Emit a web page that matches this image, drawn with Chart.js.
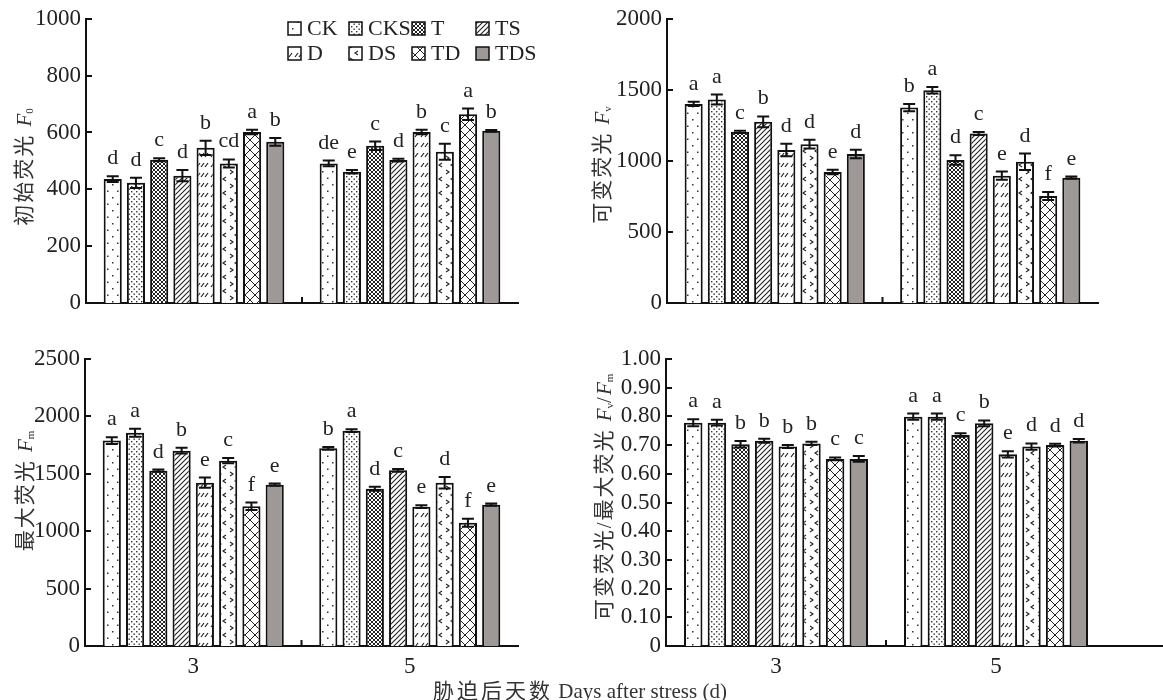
<!DOCTYPE html>
<html>
<head>
<meta charset="utf-8">
<script src="https://cdn.jsdelivr.net/npm/chart.js@4.4.1/dist/chart.umd.min.js"></script>
<style>
  html, body { margin:0; padding:0; background:#fff; }
  #wrap { position:relative; width:1163px; height:700px; overflow:hidden; background:#fff; }
  canvas { position:absolute; }
  .yt { position:absolute; transform: translate(-50%,-50%) rotate(-90deg); white-space:nowrap;
        font-family:"Liberation Serif","Noto Sans CJK SC",serif; font-size:21px; color:#333; letter-spacing:2px; }
  .yt i, .xt i { font-style:italic; letter-spacing:0; }
  .yt sub { font-size:11px; vertical-align:-2px; letter-spacing:0; }
  .xt { position:absolute; transform: translate(-50%,-50%); white-space:nowrap;
        font-family:"Liberation Serif","Noto Sans CJK SC",serif; font-size:21px; color:#333; }
  .xt .cn { letter-spacing:3px; }
</style>
</head>
<body>
<div id="wrap">
  <canvas id="c1" width="580" height="330" style="left:0px;top:0px;width:580px;height:330px"></canvas>
  <canvas id="c2" width="583" height="330" style="left:580px;top:0px;width:583px;height:330px"></canvas>
  <canvas id="c3" width="580" height="345" style="left:0px;top:330px;width:580px;height:345px"></canvas>
  <canvas id="c4" width="583" height="345" style="left:580px;top:330px;width:583px;height:345px"></canvas>
  <div class="yt" style="left:22px;top:167px">初始荧光 <i>F</i><sub>0</sub></div>
  <div class="yt" style="left:600px;top:165px">可变荧光 <i>F</i><sub>v</sub></div>
  <div class="yt" style="left:23px;top:491px">最大荧光 <i>F</i><sub>m</sub></div>
  <div class="yt" style="left:602px;top:497px">可变荧光/最大荧光 <i>F</i><sub>v</sub>/<i>F</i><sub>m</sub></div>
  <div class="xt" style="left:580px;top:689px"><span class="cn">胁迫后天数</span> Days after stress (d)</div>
</div>
<script>
// ---------------- DATA ----------------
const categories = ['3', '5'];
const treatments = ['CK', 'CKS', 'T', 'TS', 'D', 'DS', 'TD', 'TDS'];

// Initial fluorescence F0
const f0Day3 = [436, 423, 504, 448, 546, 491, 602, 567];
const f0Day5 = [491, 462, 553, 503, 602, 532, 664, 606];
const f0ErrDay3 = [10, 18, 5, 20, 25, 14, 8, 14];
const f0ErrDay5 = [10, 6, 15, 5, 8, 28, 20, 3];
const f0SigDay3 = ['d', 'd', 'c', 'd', 'b', 'cd', 'a', 'b'];
const f0SigDay5 = ['de', 'e', 'c', 'd', 'b', 'c', 'a', 'b'];

// Variable fluorescence Fv
const fvDay3 = [1401, 1432, 1205, 1275, 1076, 1118, 922, 1048];
const fvDay5 = [1375, 1497, 1006, 1193, 896, 994, 753, 882];
const fvErrDay3 = [15, 35, 8, 38, 44, 30, 16, 30];
const fvErrDay5 = [25, 23, 33, 10, 29, 58, 29, 8];
const fvSigDay3 = ['a', 'a', 'c', 'b', 'd', 'd', 'e', 'd'];
const fvSigDay5 = ['b', 'a', 'd', 'c', 'e', 'd', 'f', 'e'];

// Maximal fluorescence Fm
const fmDay3 = [1789, 1858, 1527, 1701, 1423, 1614, 1217, 1405];
const fmDay5 = [1722, 1876, 1370, 1530, 1214, 1423, 1074, 1231];
const fmErrDay3 = [29, 35, 10, 25, 44, 23, 32, 10];
const fmErrDay5 = [12, 12, 18, 12, 12, 50, 35, 10];
const fmSigDay3 = ['a', 'a', 'd', 'b', 'e', 'c', 'f', 'e'];
const fmSigDay5 = ['b', 'a', 'd', 'c', 'e', 'd', 'f', 'e'];

// Fv/Fm
const ratioDay3 = [0.778, 0.778, 0.703, 0.715, 0.695, 0.706, 0.652, 0.652];
const ratioDay5 = [0.799, 0.799, 0.735, 0.776, 0.668, 0.695, 0.700, 0.715];
const ratioErrDay3 = [0.012, 0.010, 0.011, 0.007, 0.005, 0.006, 0.005, 0.010];
const ratioErrDay5 = [0.011, 0.011, 0.006, 0.010, 0.011, 0.011, 0.005, 0.006];
const ratioSigDay3 = ['a', 'a', 'b', 'b', 'b', 'b', 'c', 'c'];
const ratioSigDay5 = ['a', 'a', 'c', 'b', 'e', 'd', 'd', 'd'];

// ---------------- PATTERNS ----------------
function makePattern(w, h, draw) {
  const c = document.createElement('canvas');
  c.width = w; c.height = h;
  const g = c.getContext('2d');
  g.fillStyle = '#fff'; g.fillRect(0, 0, w, h);
  g.fillStyle = '#333'; g.strokeStyle = '#222'; g.lineWidth = 1;
  draw(g, w, h);
  return g.createPattern(c, 'repeat');
}
const fills = [
  makePattern(10, 13, g => { g.fillRect(2, 2, 1.5, 1.5); g.fillRect(7, 8.5, 1.5, 1.5); }),     // CK
  makePattern(5, 5, g => { g.fillRect(1, 1, 1.4, 1.4); g.fillRect(3.5, 3.5, 1.4, 1.4); }),     // CKS
  makePattern(4, 4, g => { g.lineWidth = 1; g.beginPath();                                       // T
    g.moveTo(0, 0); g.lineTo(4, 4); g.moveTo(4, 0); g.lineTo(0, 4); g.stroke(); }),
  makePattern(5, 5, g => { g.lineWidth = 1.1; g.beginPath();                                     // TS
    g.moveTo(0, 5); g.lineTo(5, 0); g.moveTo(-1, 1); g.lineTo(1, -1); g.moveTo(4, 6); g.lineTo(6, 4); g.stroke(); }),
  makePattern(14, 10, g => { g.lineWidth = 1.2; g.beginPath();                                   // D
    for (let k = 0; k < 3; k++) { g.moveTo(1 + k * 4, 7); g.lineTo(4 + k * 4, 3); } g.stroke(); }),
  makePattern(12, 14, g => { g.lineWidth = 1.1; g.beginPath();                                   // DS
    g.moveTo(2, 2); g.lineTo(5, 4); g.lineTo(2, 6);
    g.moveTo(10, 9); g.lineTo(7, 11); g.lineTo(10, 13); g.stroke(); }),
  makePattern(10, 10, g => { g.lineWidth = 1; g.beginPath();                                     // TD
    g.moveTo(0, 0); g.lineTo(10, 10); g.moveTo(10, 0); g.lineTo(0, 10); g.stroke(); }),
  '#9e9896'                                                                                      // TDS
];

// ---------------- PLUGINS ----------------
const serif = '"Liberation Serif", "Times New Roman", serif';

const errorBarPlugin = {
  id: 'errorBars',
  afterDatasetsDraw(chart) {
    const ctx = chart.ctx, y = chart.scales.y;
    chart.data.datasets.forEach((ds, i) => {
      const meta = chart.getDatasetMeta(i);
      meta.data.forEach((bar, j) => {
        const v = ds.data[j], e = ds.errors[j];
        const yt = y.getPixelForValue(v + e), yb = y.getPixelForValue(v - e);
        ctx.save();
        ctx.strokeStyle = '#111'; ctx.lineWidth = 2;
        ctx.beginPath();
        ctx.moveTo(bar.x, yt); ctx.lineTo(bar.x, yb);
        ctx.moveTo(bar.x - 6, yt); ctx.lineTo(bar.x + 6, yt);
        ctx.moveTo(bar.x - 6, yb); ctx.lineTo(bar.x + 6, yb);
        ctx.stroke();
        ctx.fillStyle = '#222';
        ctx.font = '22px ' + serif;
        ctx.textAlign = 'center'; ctx.textBaseline = 'alphabetic';
        ctx.fillText(ds.sig[j], bar.x, yt - 12);
        ctx.restore();
      });
    });
  }
};

const innerTicksPlugin = {
  id: 'innerTicks',
  afterDraw(chart, args, opts) {
    const ctx = chart.ctx, y = chart.scales.y, x = chart.scales.x, a = chart.chartArea;
    ctx.save();
    ctx.strokeStyle = '#111'; ctx.lineWidth = 2;
    ctx.beginPath();
    y.ticks.forEach((t, i) => {
      const py = Math.round(y.getPixelForTick(i));
      if (i === 0) return;
      ctx.moveTo(a.left, py); ctx.lineTo(a.left + 6, py);
    });
    const mid = (x.getPixelForValue(0) + x.getPixelForValue(1)) / 2;
    ctx.moveTo(mid, a.bottom); ctx.lineTo(mid, a.bottom - 6);
    if (opts.extend) { ctx.moveTo(a.right - 1, x.top); ctx.lineTo(chart.width, x.top); }
    ctx.stroke();
    ctx.restore();
  }
};

const customLegendPlugin = {
  id: 'customLegend',
  afterDraw(chart, args, opts) {
    if (!opts.show) return;
    const ctx = chart.ctx;
    const cols = [288, 349, 412, 476];
    const rows = [28, 53];
    ctx.save();
    chart.data.datasets.forEach((ds, i) => {
      const cx = cols[i % 4], cy = rows[Math.floor(i / 4)];
      ctx.fillStyle = ds.backgroundColor;
      ctx.fillRect(cx, cy - 6, 13, 13);
      ctx.strokeStyle = '#111'; ctx.lineWidth = 1.5;
      ctx.strokeRect(cx, cy - 6, 13, 13);
      ctx.fillStyle = '#222';
      ctx.font = '22px ' + serif;
      ctx.textAlign = 'left'; ctx.textBaseline = 'middle';
      ctx.fillText(ds.label, cx + 19, cy + 1);
    });
    ctx.restore();
  }
};

// ---------------- CHART FACTORY ----------------
function buildChart(id, d3, d5, e3, e5, s3, s5, yMax, yStep, pad, xHeight, showXTicks, extras) {
  const datasets = treatments.map((t, i) => ({
    label: t,
    data: [d3[i], d5[i]],
    errors: [e3[i], e5[i]],
    sig: [s3[i], s5[i]],
    backgroundColor: fills[i],
    borderColor: '#111',
    borderWidth: 2,
    categoryPercentage: 0.86,
    barPercentage: 0.78
  }));
  return new Chart(document.getElementById(id), {
    type: 'bar',
    data: { labels: categories, datasets },
    options: {
      responsive: false,
      animation: false,
      devicePixelRatio: 1,
      layout: { padding: pad },
      plugins: {
        legend: { display: false },
        tooltip: { enabled: false },
        innerTicks: { extend: !!extras.extend },
        customLegend: { show: !!extras.legend }
      },
      scales: {
        x: {
          grid: { display: false, drawTicks: false },
          border: { display: true, color: '#111', width: 2 },
          ticks: { display: showXTicks, color: '#222', font: { family: serif, size: 23 }, padding: 7 },
          afterFit: s => { s.height = xHeight; }
        },
        y: {
          min: 0, max: yMax,
          grid: { display: false, drawTicks: false },
          border: { display: true, color: '#111', width: 2 },
          ticks: {
            stepSize: yStep, color: '#222', padding: 5, autoSkip: false,
            font: { family: serif, size: 23 },
            callback: extras.fmt || (v => v)
          },
          afterFit: s => { s.width = extras.yWidth; }
        }
      }
    },
    plugins: [errorBarPlugin, innerTicksPlugin, customLegendPlugin]
  });
}

buildChart('c1', f0Day3, f0Day5, f0ErrDay3, f0ErrDay5, f0SigDay3, f0SigDay5, 1000, 200,
  { top: 18, right: 62, bottom: 0, left: 0 }, 27, false, { yWidth: 86, legend: true });
buildChart('c2', fvDay3, fvDay5, fvErrDay3, fvErrDay5, fvSigDay3, fvSigDay5, 2000, 500,
  { top: 18, right: 65, bottom: 0, left: 0 }, 27, false, { yWidth: 87 });
buildChart('c3', fmDay3, fmDay5, fmErrDay3, fmErrDay5, fmSigDay3, fmSigDay5, 2500, 500,
  { top: 29, right: 62, bottom: 0, left: 0 }, 29, true, { yWidth: 85 });
buildChart('c4', ratioDay3, ratioDay5, ratioErrDay3, ratioErrDay5, ratioSigDay3, ratioSigDay5, 1.0, 0.1,
  { top: 29, right: 57, bottom: 0, left: 0 }, 29, true,
  { yWidth: 86, extend: true, fmt: v => (Math.abs(v) < 1e-9 ? '0' : v.toFixed(2)) });
</script>
</body>
</html>
